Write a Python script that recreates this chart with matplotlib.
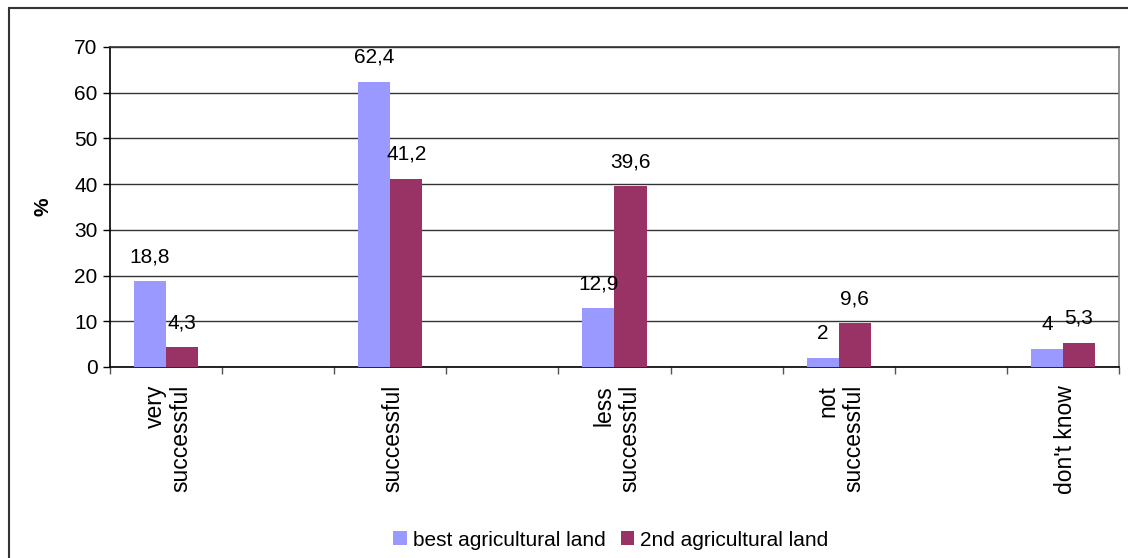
import matplotlib
matplotlib.use('Agg')
import matplotlib.pyplot as plt
import numpy as np

categories = ['very\nsuccessful', 'successful', 'less\nsuccessful', 'not\nsuccessful', "don't know"]
best_land = [18.8, 62.4, 12.9, 2, 4]
second_land = [4.3, 41.2, 39.6, 9.6, 5.3]
series_names = ['best agricultural land', '2nd agricultural land']
y_ticks = [0, 10, 20, 30, 40, 50, 60, 70]


def fmt(v):
    # comma as decimal sign, whole numbers without decimals
    if float(v).is_integer():
        return str(int(v))
    return ('%.1f' % v).replace('.', ',')


def bar_chart(out_path='out.png'):
    plt.rcParams['font.family'] = ['Liberation Sans', 'DejaVu Sans']
    fig = plt.figure(figsize=(11.28, 5.58), dpi=100)
    W, H = 1128, 558
    ax = fig.add_axes([110 / W, 1 - 367 / H, (1119 - 110) / W, (367 - 47) / H])

    # every category is followed by an empty slot, as in the original sheet
    x = np.arange(len(categories)) * 2
    width = 2 / 7
    b1 = ax.bar(x - width / 2, best_land, width, color='#9999FF', label=series_names[0], zorder=3)
    b2 = ax.bar(x + width / 2, second_land, width, color='#993366', label=series_names[1], zorder=3)

    for bars, vals in ((b1, best_land), (b2, second_land)):
        for rect, v in zip(bars, vals):
            ax.annotate(fmt(v), (rect.get_x() + rect.get_width() / 2, v),
                        xytext=(0, 17.5), textcoords='offset points',
                        ha='center', va='center', fontsize=15, color='black')

    ax.set_xlim(-0.5, 2 * len(categories) - 1.5)
    ax.set_ylim(0, 70)
    ax.set_yticks(y_ticks)
    ax.yaxis.grid(True, color='#333333', linewidth=1, zorder=0)
    ax.set_axisbelow(True)

    # boundary ticks between slots
    ax.set_xticks(np.arange(-0.5, 2 * len(categories) - 1, 1))
    ax.set_xticklabels([])
    ax.tick_params(axis='x', length=5, color='#555555', width=1)
    ax.tick_params(axis='y', length=5, width=1, labelsize=15, pad=4)

    for xi, name in zip(x, categories):
        ax.text(xi + 0.02, -3.9, name, rotation=90, ha='center', va='top', multialignment='right',
                fontsize=16.5, linespacing=1.15, transform=ax.transData)

    ax.set_ylabel('%', fontsize=15, fontweight='bold')
    ax.yaxis.set_label_coords(-0.057, 0.5)

    ax.spines['left'].set_color('black')
    ax.spines['bottom'].set_color('black')
    ax.spines['right'].set_color('#808080')
    ax.spines['top'].set_color('#333333')
    for s in ax.spines.values():
        s.set_linewidth(1.2)

    fig.legend(handles=[b1, b2], loc='center', bbox_to_anchor=(611 / W, 1 - 540 / H), ncol=2,
               frameon=False, fontsize=15, handlelength=0.65, handleheight=0.65,
               handletextpad=0.3, columnspacing=0.7)

    # outer chart frame
    frame = plt.Rectangle((9 / W, -0.05), 1.2, 1 - 8 / H + 0.05, transform=fig.transFigure,
                          fill=False, edgecolor='#333333', linewidth=1.5)
    fig.patches.append(frame)

    fig.savefig(out_path, dpi=100)
    plt.close(fig)


if __name__ == '__main__':
    bar_chart('out.png')
